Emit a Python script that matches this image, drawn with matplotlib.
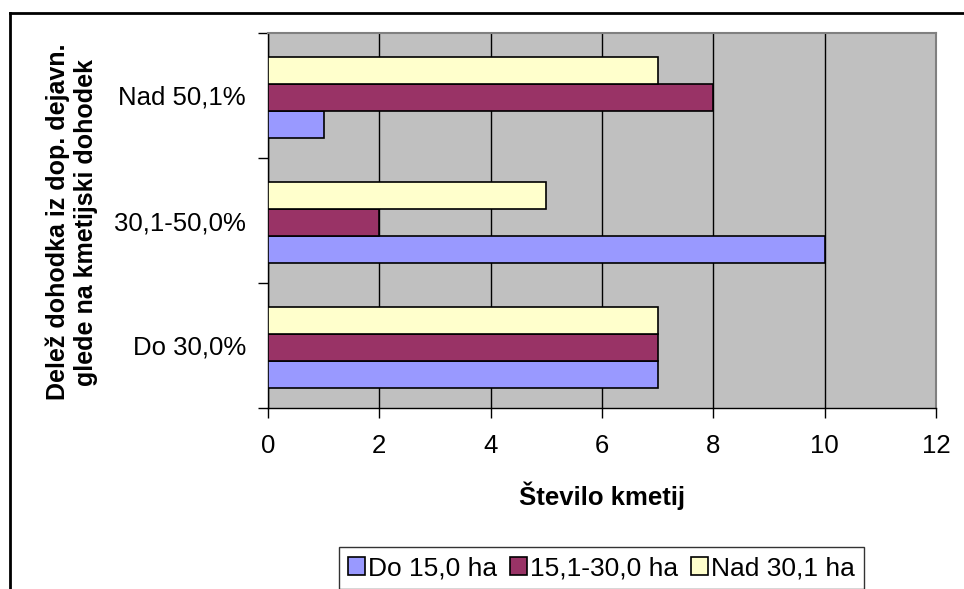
import numpy as np
import matplotlib
matplotlib.use('Agg')
import matplotlib.pyplot as plt
from matplotlib.patches import Patch
from matplotlib.lines import Line2D

plt.rcParams['font.family'] = ['Liberation Sans', 'DejaVu Sans']

categories = ['Do 30,0%', '30,1-50,0%', 'Nad 50,1%']
series_names = ['Do 15,0 ha', '15,1-30,0 ha', 'Nad 30,1 ha']
do_15 = [7, 10, 1]
od_15_do_30 = [7, 2, 8]
nad_30 = [7, 5, 7]
colors = ['#9999FF', '#993366', '#FFFFCC']
xticks = [0, 2, 4, 6, 8, 10, 12]

W, H = 964, 589
fig = plt.figure(figsize=(W / 100, H / 100), dpi=100)
ax = fig.add_axes([268 / W, 1 - 408 / H, (936 - 268) / W, (408 - 33) / H])
ax.set_facecolor('#C0C0C0')

y = np.arange(len(categories))
h = 0.216
for i, vals in enumerate([do_15, od_15_do_30, nad_30]):
    ax.barh(y + (i - 1) * h - 0.016, vals, height=h, color=colors[i],
            edgecolor='black', linewidth=1.2, zorder=3)

ax.set_xlim(0, 12)
ax.set_ylim(-0.5, 2.5)
ax.set_axisbelow(True)
ax.xaxis.grid(True, color='black', linewidth=1)

ax.set_xticks(xticks)
ax.tick_params(axis='x', length=7, width=1, labelsize=18.5, pad=12)
ax.set_yticks(y, categories)
ax.tick_params(axis='y', which='major', length=0, labelsize=18.5, pad=16)
ax.set_yticks([-0.5, 0.5, 1.5, 2.5], minor=True)
ax.tick_params(axis='y', which='minor', length=7, width=1, direction='out')

for s in ['left', 'bottom']:
    ax.spines[s].set_color('black')
    ax.spines[s].set_linewidth(1)
for s in ['top', 'right']:
    ax.spines[s].set_color('#808080')
    ax.spines[s].set_linewidth(1.5)

fig.text(602 / W, 1 - 496 / H, 'Število kmetij', ha='center', va='center',
         fontsize=18.5, fontweight='bold')
fig.text(72 / W, 1 - 222 / H, 'Delež dohodka iz dop. dejavn.\nglede na kmetijski dohodek',
         ha='center', va='center', rotation=90, fontsize=18, fontweight='bold',
         multialignment='center')

handles = [Patch(facecolor=c, edgecolor='black', linewidth=1.2) for c in colors]
leg = fig.legend(handles, series_names, loc='upper left', ncol=3,
                 bbox_to_anchor=(339 / W, 1 - 547 / H), fontsize=19,
                 frameon=True, fancybox=False, handlelength=0.63, handleheight=0.63,
                 handletextpad=0.12, columnspacing=0.5, borderpad=0.35,
                 borderaxespad=0)
leg.get_frame().set_edgecolor('black')
leg.get_frame().set_linewidth(1)

# outer chart frame, only the left and top edges fall inside the image
fig.add_artist(Line2D([10 / W, 10 / W], [0, 1 - 13 / H], color='black', linewidth=2))
fig.add_artist(Line2D([10 / W, 1], [1 - 13 / H, 1 - 13 / H], color='black', linewidth=2))

fig.savefig('out.png', dpi=100)
